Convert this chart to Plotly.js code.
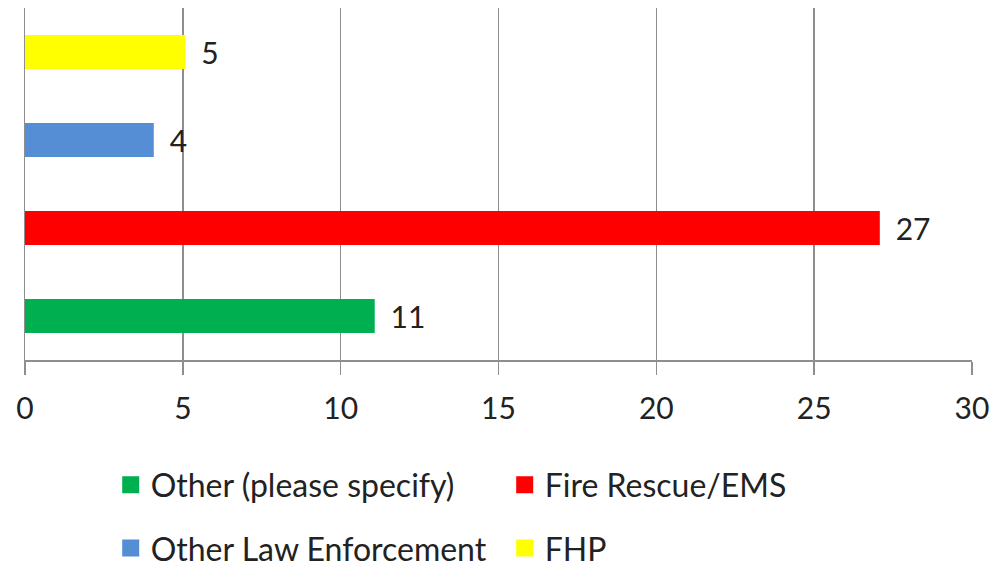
<!DOCTYPE html>
<html>
<head>
<meta charset="utf-8">
<script src="https://cdn.plot.ly/plotly-3.0.1.min.js"></script>
<style>html,body{margin:0;padding:0;background:#fff;}#chart{width:1007px;height:568px;}</style>
</head>
<body>
<div id="chart"></div>
<script>
// Data (bottom to top)
var categories = ["Other (please specify)", "Fire Rescue/EMS", "Other Law Enforcement", "FHP"];
var counts = [11, 27, 4, 5];
var colors = ["#00B050", "#FF0000", "#558ED5", "#FFFF00"];
var legendRow = ["legend", "legend", "legend2", "legend2"];
var xTickVals = [0, 5, 10, 15, 20, 25, 30];

var FONT = "Lato, 'Open Sans', sans-serif";
var TEXTCOLOR = "#222222";
var GRID = "#8E8E8E";

var traces = categories.map(function (cat, i) {
  return {
    type: "bar",
    orientation: "h",
    name: cat,
    x: [counts[i]],
    y: [cat],
    width: 0.33,
    marker: { color: colors[i], line: { color: colors[i], width: 5 } },
    texttemplate: "\u00a0\u00a0%{x}",
    textposition: "outside",
    constraintext: "none",
    cliponaxis: false,
    textfont: { family: FONT, size: 30, color: TEXTCOLOR },
    legend: legendRow[i],
    hoverinfo: "x+name"
  };
});

var legendBase = {
  orientation: "h",
  xanchor: "left",
  yanchor: "middle",
  x: 0.0905,
  entrywidth: 349,
  entrywidthmode: "pixels",
  font: { family: FONT, size: 32, color: TEXTCOLOR },
  bgcolor: "rgba(0,0,0,0)",
  borderwidth: 0,
  traceorder: "normal"
};

var layout = {
  width: 1007,
  height: 568,
  margin: { l: 25, r: 35, t: 8, b: 208, autoexpand: false },
  paper_bgcolor: "#ffffff",
  plot_bgcolor: "#ffffff",
  barmode: "overlay",
  font: { family: FONT, size: 30, color: TEXTCOLOR },
  showlegend: true,
  legend: Object.assign({}, legendBase, { y: -0.355 }),
  legend2: Object.assign({}, legendBase, { y: -0.535 }),
  xaxis: {
    range: [0, 30],
    tickvals: xTickVals,
    ticktext: xTickVals.map(String),
    showgrid: true,
    gridcolor: GRID,
    gridwidth: 1.5,
    zeroline: false,
    showline: true,
    linecolor: GRID,
    linewidth: 1.5,
    ticks: "outside",
    ticklen: 13,
    tickwidth: 1.5,
    tickcolor: GRID,
    ticklabelstandoff: 8,
    tickfont: { family: FONT, size: 30, color: TEXTCOLOR },
    fixedrange: true
  },
  yaxis: {
    type: "category",
    categoryorder: "array",
    categoryarray: categories,
    range: [-0.5, 3.5],
    showticklabels: false,
    showgrid: false,
    zeroline: false,
    showline: true,
    linecolor: GRID,
    linewidth: 1.5,
    ticks: "",
    fixedrange: true
  }
};

Plotly.newPlot("chart", traces, layout, { displayModeBar: false, staticPlot: true });
</script>
</body>
</html>
